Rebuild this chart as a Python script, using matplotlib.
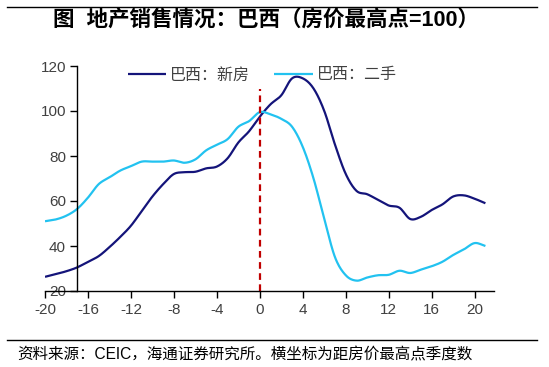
import numpy as np
import matplotlib.pyplot as plt
from matplotlib.lines import Line2D

plt.rcParams['font.family'] = ['Liberation Sans', 'Noto Sans CJK SC']
plt.rcParams['axes.unicode_minus'] = False

# quarters relative to the house price peak
quarters = list(range(-20, 22))
new_home = [26.3, 27.5, 28.8, 30.5, 33.0, 35.5, 39.5, 44.0, 49.0, 55.5,
            62.0, 67.5, 72.0, 72.8, 73.0, 74.5, 75.3, 79.0, 86.0, 91.0,
            97.5, 103.0, 107.0, 114.5, 114.5, 110.0, 100.0, 85.0, 72.0, 64.5,
            63.0, 60.5, 58.0, 57.0, 52.0, 53.0, 56.0, 58.5, 62.0, 62.5,
            61.0, 59.0]
second_hand = [51.0, 51.8, 53.5, 56.5, 61.5, 67.5, 70.5, 73.5, 75.5, 77.5,
               77.5, 77.5, 78.0, 77.0, 78.5, 82.5, 85.0, 87.5, 93.0, 95.5,
               99.5, 98.5, 96.5, 93.0, 84.0, 70.0, 52.0, 35.0, 27.0, 24.6,
               26.0, 27.0, 27.2, 29.0, 28.0, 29.5, 31.0, 33.0, 36.0, 38.5,
               41.3, 40.0]
xticks = list(range(-20, 21, 4))
yticks = list(range(20, 121, 20))
labels = ['巴西：新房', '巴西：二手']

def smooth(x, y, n=16):
    # catmull-rom curve through the points, like excel's smoothed line
    x = np.asarray(x, float)
    y = np.asarray(y, float)
    px = np.concatenate([[2 * x[0] - x[1]], x, [2 * x[-1] - x[-2]]])
    py = np.concatenate([[2 * y[0] - y[1]], y, [2 * y[-1] - y[-2]]])
    t = np.linspace(0, 1, n, endpoint=False)
    xs, ys = [], []
    for i in range(1, len(px) - 2):
        for p, out in ((px, xs), (py, ys)):
            p0, p1, p2, p3 = p[i - 1], p[i], p[i + 1], p[i + 2]
            out.extend(0.5 * (2 * p1 + (-p0 + p2) * t
                              + (2 * p0 - 5 * p1 + 4 * p2 - p3) * t ** 2
                              + (-p0 + 3 * p1 - 3 * p2 + p3) * t ** 3))
    xs.append(x[-1])
    ys.append(y[-1])
    return xs, ys

navy = '#14147a'
cyan = '#22c2f0'

fig = plt.figure(figsize=(5.49, 3.67), dpi=100)
ax = fig.add_axes([45 / 549, 76 / 367, 449 / 549, 225 / 367])

sx, sy = smooth(quarters, new_home)
ax.plot(sx, sy, color=navy, lw=1.6, label=labels[0], solid_capstyle='butt')
sx, sy = smooth(quarters, second_hand)
ax.plot(sx, sy, color=cyan, lw=1.6, label=labels[1], solid_capstyle='butt')
ax.plot([0, 0], [20, 110], color='#c00000', lw=1.6, ls=(0, (3, 2)))

ax.set_xlim(-20, 21.8)
ax.set_ylim(20, 120)
ax.set_xticks(xticks)
ax.set_yticks(yticks)
ax.spines['top'].set_visible(False)
ax.spines['right'].set_visible(False)
ax.spines['left'].set_position(('data', -17))
for s in ('left', 'bottom'):
    ax.spines[s].set_linewidth(1.0)
ax.tick_params(axis='both', direction='out', length=5, width=1.0,
               labelsize=11, labelcolor='#404040')
ax.tick_params(axis='x', pad=4)
ax.tick_params(axis='y', pad=3)

leg = ax.legend(loc='center left', bbox_to_anchor=(128 / 549, 1 - 75 / 367),
                bbox_transform=fig.transFigure, ncol=2, frameon=False,
                borderpad=0, borderaxespad=0, handlelength=2.4,
                columnspacing=1.5, handletextpad=0.25, fontsize=11.5)
for t in leg.get_texts():
    t.set_color('#404040')

# header and footer
fig.add_artist(Line2D([7 / 549, 537 / 549], [1 - 7 / 367, 1 - 7 / 367],
                      color='black', lw=1.0))
fig.text(53 / 549, 1 - 20 / 367, '图  地产销售情况：巴西（房价最高点=100）',
         ha='left', va='center', fontsize=15.5, fontweight='bold')
fig.add_artist(Line2D([7 / 549, 537 / 549], [1 - 340 / 367, 1 - 340 / 367],
                      color='black', lw=1.0))
fig.text(17 / 549, 1 - 355 / 367,
         '资料来源：CEIC，海通证券研究所。横坐标为距房价最高点季度数',
         ha='left', va='center', fontsize=11.2)

fig.savefig('out.png', dpi=100)
